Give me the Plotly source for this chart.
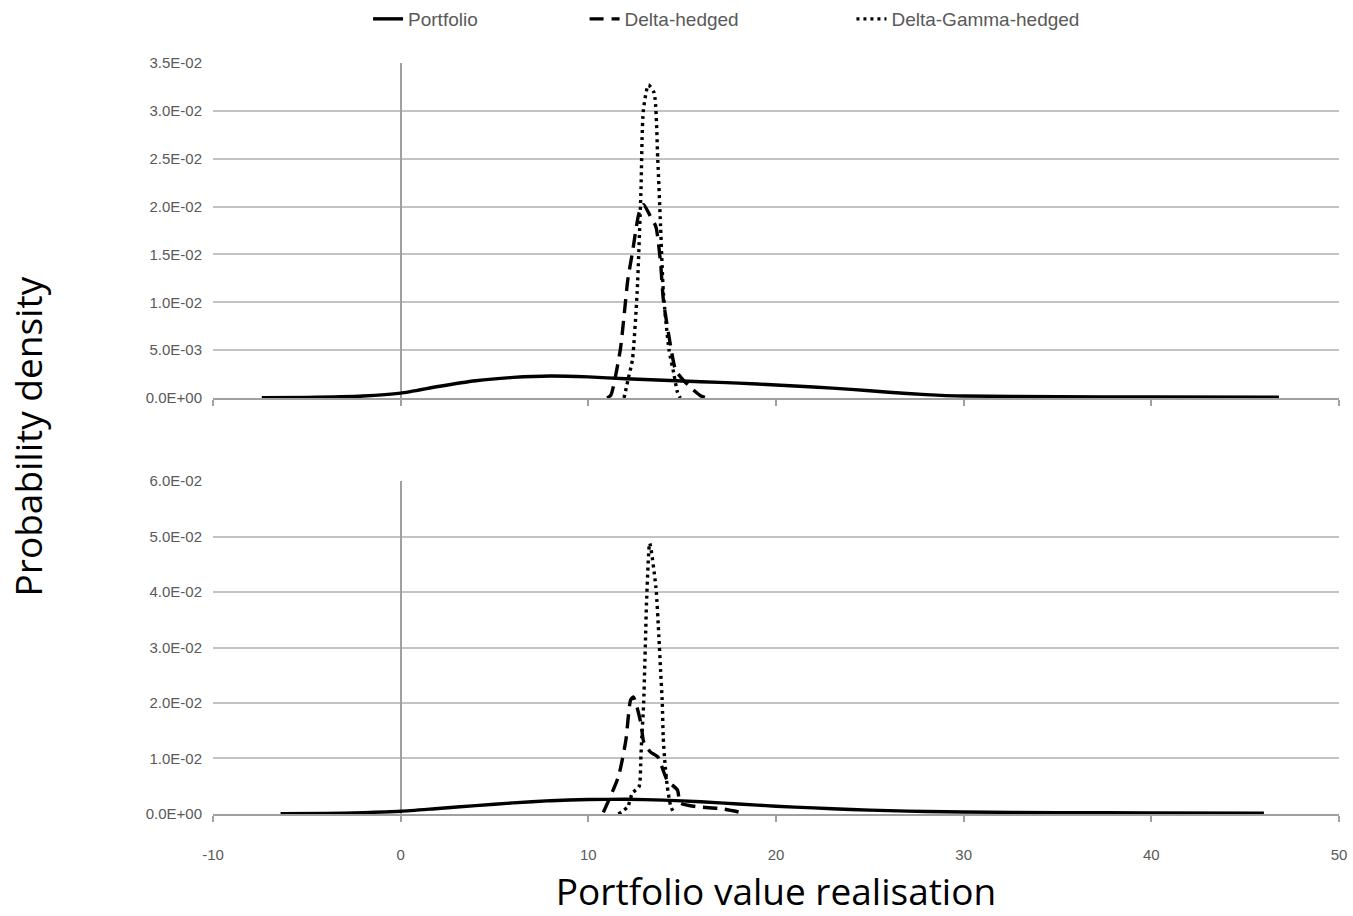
import plotly.graph_objects as go

# ---- data: portfolio value realisation (x) and probability density (in 1e-3 units) ----
# Upper panel
pf_top_x = [-7.4, -5, -2, 0, 2, 4, 6, 8, 10, 12, 14, 16, 18, 20, 22, 24, 26, 28, 30, 35, 40, 46.8]
pf_top_y = [0.02, 0.05, 0.2, 0.5, 1.2, 1.8, 2.15, 2.3, 2.2, 2.0, 1.85, 1.7, 1.55, 1.35, 1.15, 0.9, 0.6, 0.35, 0.2, 0.12, 0.1, 0.08]

dh_top_x = [11.0, 11.2, 11.7, 11.9, 12.1, 12.35, 12.7, 12.95, 13.3, 13.6, 13.85, 14.0, 14.3, 14.65, 15.0, 15.5, 16.0, 16.3]
dh_top_y = [0.0, 0.3, 5.0, 8.5, 12.3, 15.2, 19.3, 20.2, 19.0, 17.9, 14.1, 10.2, 6.4, 2.9, 2.0, 1.0, 0.2, 0.0]

dg_top_x = [11.9, 12.15, 12.35, 12.6, 12.8, 12.93, 13.2, 13.5, 13.7, 13.85, 14.0, 14.3, 14.55, 14.75, 14.9]
dg_top_y = [0.0, 2.2, 4.0, 11.0, 21.4, 30.0, 32.7, 31.9, 24.9, 17.9, 11.0, 5.0, 2.6, 0.6, 0.0]

# Lower panel
pf_bot_x = [-6.4, -4, -2, 0, 2, 4, 6, 8, 10, 12, 14, 16, 18, 20, 22, 24, 26, 28, 30, 35, 40, 46]
pf_bot_y = [0.05, 0.1, 0.25, 0.5, 1.0, 1.5, 2.0, 2.4, 2.6, 2.65, 2.5, 2.2, 1.8, 1.4, 1.1, 0.8, 0.6, 0.45, 0.35, 0.25, 0.2, 0.15]

dh_bot_x = [10.8, 11.6, 12.0, 12.25, 12.4, 12.8, 12.95, 13.3, 13.7, 14.2, 14.75, 14.9, 15.8, 17.0, 18.1]
dh_bot_y = [0.3, 6.7, 13.3, 20.5, 21.1, 16.4, 13.0, 11.2, 10.3, 6.1, 4.3, 2.0, 1.3, 1.0, 0.3]

dg_bot_x = [11.6, 12.1, 12.35, 12.7, 12.8, 12.85, 12.95, 13.0, 13.05, 13.1, 13.27, 13.6, 13.76, 13.85, 13.94, 13.99, 14.07, 14.21, 14.4, 14.6]
dg_bot_y = [0.0, 1.3, 3.8, 4.9, 10.3, 13.9, 20.0, 25.9, 31.9, 38.0, 48.8, 40.9, 31.9, 25.9, 20.0, 13.9, 9.7, 4.9, 1.3, 0.0]

# ---- axis ticks ----
x_ticks = [-10, 0, 10, 20, 30, 40, 50]
x_labels = ["-10", "0", "10", "20", "30", "40", "50"]
top_ticks = [0, 0.005, 0.01, 0.015, 0.02, 0.025, 0.03, 0.035]
top_labels = ["0.0E+00", "5.0E-03", "1.0E-02", "1.5E-02", "2.0E-02", "2.5E-02", "3.0E-02", "3.5E-02"]
bot_ticks = [0, 0.01, 0.02, 0.03, 0.04, 0.05, 0.06]
bot_labels = ["0.0E+00", "1.0E-02", "2.0E-02", "3.0E-02", "4.0E-02", "5.0E-02", "6.0E-02"]

SERIES = ["Portfolio", "Delta-hedged", "Delta-Gamma-hedged"]
DASHES = ["solid", "14px,8px", "3px,4px"]
LEGENDS = ["legend", "legend2", "legend3"]
LEGEND_X = [0.1377, 0.330, 0.567]

TICK_FONT = dict(family="Liberation Sans Narrow, Arial Narrow, Liberation Sans, sans-serif", size=15, color="#595959")
LEGEND_FONT = dict(family="Liberation Sans, Arial, sans-serif", size=19, color="#595959")
TITLE_FONT = dict(family="Open Sans, Noto Sans, sans-serif", size=37, color="#000000")
GRID = "#c3c3c3"
AXIS = "#a0a0a0"


def scaled(vals):
    return [v * 1e-3 for v in vals]


fig = go.Figure()

panels = [
    ("x", "y", [(pf_top_x, pf_top_y), (dh_top_x, dh_top_y), (dg_top_x, dg_top_y)], True),
    ("x2", "y2", [(pf_bot_x, pf_bot_y), (dh_bot_x, dh_bot_y), (dg_bot_x, dg_bot_y)], False),
]
for xa, ya, curves, show in panels:
    for name, dash, leg, (xs, ys) in zip(SERIES, DASHES, LEGENDS, curves):
        fig.add_trace(go.Scatter(
            x=xs, y=scaled(ys), mode="lines", name=name,
            line=dict(color="#000000", width=3.4, dash=dash, shape="spline", smoothing=0.6),
            xaxis=xa, yaxis=ya, showlegend=show, legend=leg, hoverinfo="skip",
        ))

x_common = dict(
    range=[-10, 50], tickvals=x_ticks, ticktext=x_labels, showgrid=False,
    zeroline=True, zerolinecolor=AXIS, zerolinewidth=1.5,
    showline=True, linecolor=AXIS, linewidth=1.5,
    ticks="outside", ticklen=6, tickcolor=AXIS, tickwidth=1.5,
    tickfont=TICK_FONT, automargin=False,
)
y_common = dict(
    showgrid=True, gridcolor=GRID, gridwidth=2, zeroline=False, showline=False,
    ticks="", tickfont=TICK_FONT, ticklabelstandoff=10, automargin=False,
)

legend_common = dict(
    orientation="h", xref="paper", yref="container", xanchor="left",
    y=1.0, yanchor="top", font=LEGEND_FONT, bgcolor="rgba(0,0,0,0)",
)

fig.update_layout(
    width=1353, height=916,
    paper_bgcolor="white", plot_bgcolor="white",
    margin=dict(l=213, r=14, t=63, b=102, autoexpand=False),
    xaxis=dict(x_common, anchor="y", showticklabels=False),
    yaxis=dict(y_common, domain=[0.554, 1.0], range=[0, 0.035], tickvals=top_ticks, ticktext=top_labels),
    xaxis2=dict(x_common, anchor="y2", matches="x", ticklabelstandoff=20,
                title=dict(text="Portfolio value realisation", font=TITLE_FONT, standoff=30)),
    yaxis2=dict(y_common, domain=[0.0, 0.4434], range=[0, 0.06], tickvals=bot_ticks, ticktext=bot_labels),
    legend=dict(legend_common, x=LEGEND_X[0]),
    legend2=dict(legend_common, x=LEGEND_X[1]),
    legend3=dict(legend_common, x=LEGEND_X[2]),
    annotations=[dict(
        text="Probability density", textangle=-90, showarrow=False,
        xref="paper", yref="paper", x=-0.165, y=0.503, xanchor="center", yanchor="middle",
        font=TITLE_FONT,
    )],
)

fig.write_html("out.html")
